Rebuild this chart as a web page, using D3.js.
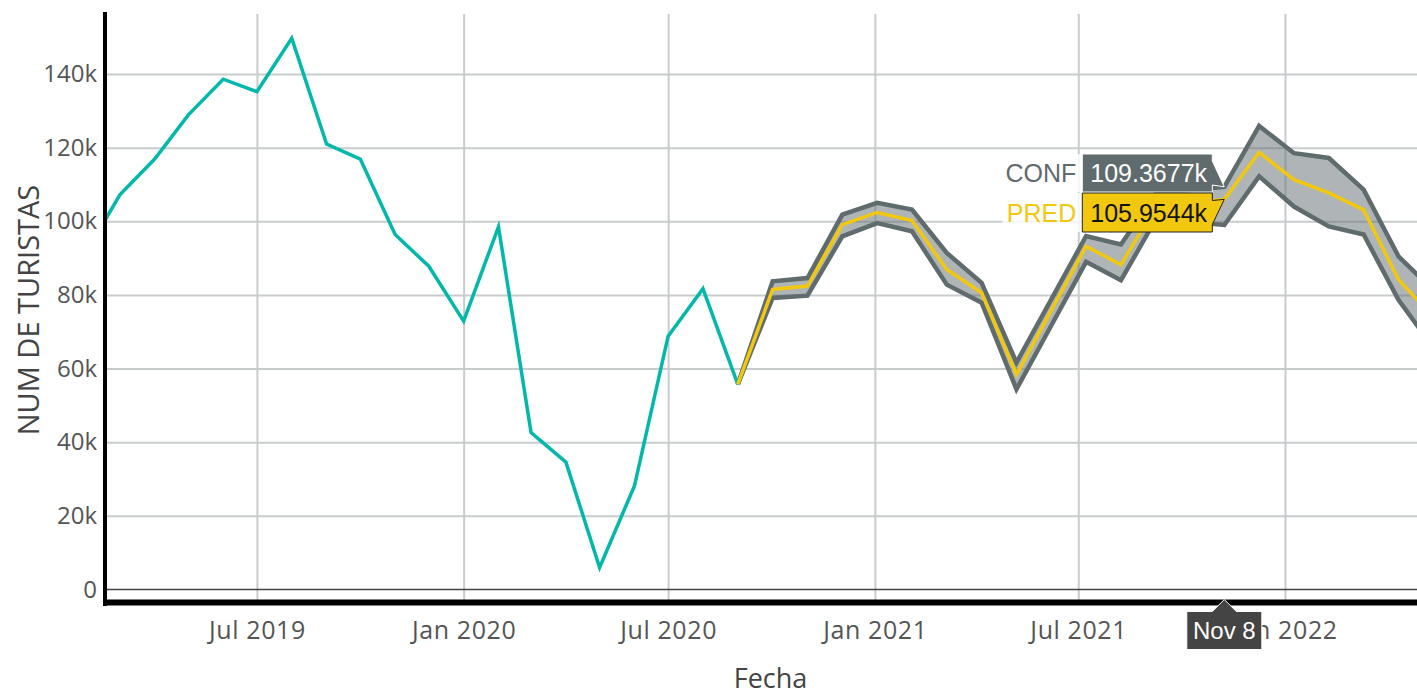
<!DOCTYPE html>
<html>
<head>
<meta charset="utf-8">
<script src="https://cdn.jsdelivr.net/npm/d3@7"></script>
<style>
  html, body { margin: 0; padding: 0; background: #fff; }
  svg { display: block; }
</style>
</head>
<body>
<div id="chart"></div>
<script>
// observed monthly tourists (teal line)
const obsDates = ["2019-02-01","2019-03-01","2019-04-01","2019-05-01","2019-06-01","2019-07-01",
  "2019-08-01","2019-09-01","2019-10-01","2019-11-01","2019-12-01","2020-01-01","2020-02-01",
  "2020-03-01","2020-04-01","2020-05-01","2020-06-01","2020-07-01","2020-08-01","2020-09-01"];
const obsValues = [92500, 107200, 116900, 128900, 138600, 135200, 149700, 121000, 116900, 96400,
  87800, 72900, 98500, 42600, 34600, 6000, 28100, 68800, 81700, 55700];

// forecast (PRED) with confidence band (CONF)
const fcDates = ["2020-09-01","2020-10-02","2020-11-02","2020-12-03","2021-01-03","2021-02-03",
  "2021-03-06","2021-04-06","2021-05-07","2021-06-07","2021-07-08","2021-08-08","2021-09-08",
  "2021-10-09","2021-11-08","2021-12-09","2022-01-09","2022-02-09","2022-03-12","2022-04-12","2022-05-13"];
const fcPred  = [55700, 81500, 82400, 99100, 102400, 100200, 86900, 80600, 58400, 75800, 93200,
  88200, 104000, 105000, 105954.4, 118700, 111300, 107700, 103100, 84200, 74000];
const fcLower = [55700, 79200, 79800, 95900, 99500, 97300, 82800, 77900, 54400, 71700, 89000,
  84000, 100500, 99800, 99000, 112200, 104000, 98600, 96400, 78700, 65700];
const fcUpper = [55700, 83700, 84600, 101800, 105000, 103200, 91400, 83300, 61600, 78800, 96000,
  93700, 107500, 108500, 109367.7, 125900, 118500, 117200, 108600, 90500, 81300];

const yTicks = [0, 20000, 40000, 60000, 80000, 100000, 120000, 140000];
const xTicks = ["2019-07-01","2020-01-01","2020-07-01","2021-01-01","2021-07-01","2022-01-01"];
const hoverIndex = 14;   // Nov 8

const W = 1417, H = 694;
const plot = { left: 105, right: 1417, top: 14, bottom: 602.5 };

const parse = d3.utcParse("%Y-%m-%d");
const obs = obsDates.map((d, i) => ({ date: parse(d), v: obsValues[i] }));
const fc = fcDates.map((d, i) => ({ date: parse(d), p: fcPred[i], lo: fcLower[i], hi: fcUpper[i] }));

const x = d3.scaleUtc()
  .domain([new Date(Date.UTC(2019, 1, 15, 19)), new Date(Date.UTC(2022, 3, 28, 12))])
  .range([plot.left, plot.right]);
const y = d3.scaleLinear().domain([-3530, 156300]).range([plot.bottom, plot.top]);

const svg = d3.select("#chart").append("svg").attr("width", W).attr("height", H);

svg.append("defs").append("clipPath").attr("id", "plotclip")
  .append("rect")
  .attr("x", plot.left).attr("y", plot.top)
  .attr("width", plot.right - plot.left).attr("height", plot.bottom - plot.top);

// gridlines
const grid = svg.append("g");
grid.append("g")
  .attr("transform", `translate(0,${plot.bottom})`)
  .call(d3.axisBottom(x).tickValues(xTicks.map(parse)).tickSize(-(plot.bottom - plot.top)).tickFormat(""))
  .call(g => g.select(".domain").remove())
  .call(g => g.selectAll("line").attr("stroke", "#c8cccd").attr("stroke-width", 2));
grid.append("g")
  .attr("transform", `translate(${plot.left},0)`)
  .call(d3.axisLeft(y).tickValues(yTicks.filter(d => d !== 0)).tickSize(-(plot.right - plot.left)).tickFormat(""))
  .call(g => g.select(".domain").remove())
  .call(g => g.selectAll("line").attr("stroke", "#c8cccd").attr("stroke-width", 2));

// zero line
svg.append("line")
  .attr("x1", plot.left).attr("x2", plot.right)
  .attr("y1", y(0)).attr("y2", y(0))
  .attr("stroke", "#444").attr("stroke-width", 1.5);

const data = svg.append("g").attr("clip-path", "url(#plotclip)");

// confidence band
data.append("path")
  .datum(fc)
  .attr("d", d3.area().x(d => x(d.date)).y0(d => y(d.lo)).y1(d => y(d.hi)))
  .attr("fill", "#5F6B6D").attr("fill-opacity", 0.5);

["lo", "hi"].forEach(k => {
  data.append("path")
    .datum(fc)
    .attr("d", d3.line().x(d => x(d.date)).y(d => y(d[k])))
    .attr("fill", "none").attr("stroke", "#5F6B6D").attr("stroke-width", 4.5);
});

// observed
data.append("path")
  .datum(obs)
  .attr("d", d3.line().x(d => x(d.date)).y(d => y(d.v)))
  .attr("fill", "none").attr("stroke", "#01B8AA").attr("stroke-width", 3.5);

// prediction
data.append("path")
  .datum(fc)
  .attr("d", d3.line().x(d => x(d.date)).y(d => y(d.p)))
  .attr("fill", "none").attr("stroke", "#F2C80F").attr("stroke-width", 3.5);

// axis lines
svg.append("line")
  .attr("x1", plot.left).attr("x2", plot.left)
  .attr("y1", 12).attr("y2", plot.bottom + 3.5)
  .attr("stroke", "#000").attr("stroke-width", 4);
svg.append("line")
  .attr("x1", plot.left - 2).attr("x2", W)
  .attr("y1", plot.bottom).attr("y2", plot.bottom)
  .attr("stroke", "#000").attr("stroke-width", 6);

// tick labels
const tickFont = "'Open Sans', 'Noto Sans', sans-serif";
svg.append("g")
  .attr("transform", `translate(${plot.left - 8},0)`)
  .call(d3.axisLeft(y).tickValues(yTicks).tickSize(0).tickPadding(0)
    .tickFormat(d => d === 0 ? "0" : (d / 1000) + "k"))
  .call(g => g.select(".domain").remove())
  .call(g => g.selectAll("text")
    .attr("font-family", tickFont).attr("font-size", 24).attr("fill", "#555"));

svg.append("g")
  .attr("transform", `translate(0,${plot.bottom + 19})`)
  .call(d3.axisBottom(x).tickValues(xTicks.map(parse)).tickSize(0).tickPadding(0)
    .tickFormat(d3.utcFormat("%b %Y")))
  .call(g => g.select(".domain").remove())
  .call(g => g.selectAll("text")
    .attr("font-family", tickFont).attr("font-size", 25).attr("letter-spacing", 0.6).attr("fill", "#555"));

// axis titles
svg.append("text")
  .attr("transform", "translate(39,310) rotate(-90)")
  .attr("text-anchor", "middle")
  .attr("font-family", tickFont).attr("font-size", 29).attr("fill", "#444")
  .text("NUM DE TURISTAS");
svg.append("text")
  .attr("x", 770.5).attr("y", 688)
  .attr("text-anchor", "middle")
  .attr("font-family", tickFont).attr("font-size", 27).attr("fill", "#444")
  .text("Fecha");

// hover labels
const hp = fc[hoverIndex];
const hx = x(hp.date);
const hoverFont = "'Liberation Sans', Arial, sans-serif";
const fmtK = d => (d / 1000).toFixed(4) + "k";
const arrow = 12;

function hoverLabel(val, name, fill, stroke, textColor, nameColor, centerY, h) {
  const py = y(val);
  const off = centerY - py;
  const w = 130;
  const g = svg.append("g").attr("transform", `translate(${hx},${py})`);
  // name box
  g.append("rect")
    .attr("x", -arrow - w - 80).attr("y", off - h / 2)
    .attr("width", 80).attr("height", h)
    .attr("fill", "#fff").attr("fill-opacity", 0.8);
  g.append("text")
    .attr("x", -arrow - w - 6).attr("y", off + 9)
    .attr("text-anchor", "end")
    .attr("font-family", hoverFont).attr("font-size", 25).attr("fill", nameColor)
    .text(name);
  g.append("path")
    .attr("d", `M0,0L${-arrow},${arrow + off}v${h / 2 - arrow}h${-w}V${off - h / 2}H${-arrow}V${off - arrow}Z`)
    .attr("fill", fill).attr("stroke", stroke).attr("stroke-width", 1);
  g.append("text")
    .attr("x", -arrow - w + 8).attr("y", off + 9)
    .attr("font-family", hoverFont).attr("font-size", 25).attr("fill", textColor)
    .text(fmtK(val));
}

hoverLabel(hp.hi, "CONF", "#5F6B6D", "#fff", "#fff", "#5F6B6D", 173, 38);
hoverLabel(hp.p, "PRED", "#F2C80F", "#222", "#111", "#F2C80F", 212.5, 39);

// x spike label
const ax = svg.append("g").attr("transform", `translate(${hx},${plot.bottom - 3})`);
ax.append("path")
  .attr("d", `M0,0L${-arrow},${arrow}H-37.5V${arrow + 38}H37.5V${arrow}H${arrow}Z`)
  .attr("fill", "#444").attr("stroke", "#fff").attr("stroke-width", 1);
ax.append("text")
  .attr("x", 0).attr("y", arrow + 27)
  .attr("text-anchor", "middle")
  .attr("font-family", hoverFont).attr("font-size", 24).attr("fill", "#fff")
  .text(d3.utcFormat("%b %-d")(hp.date));
</script>
</body>
</html>
